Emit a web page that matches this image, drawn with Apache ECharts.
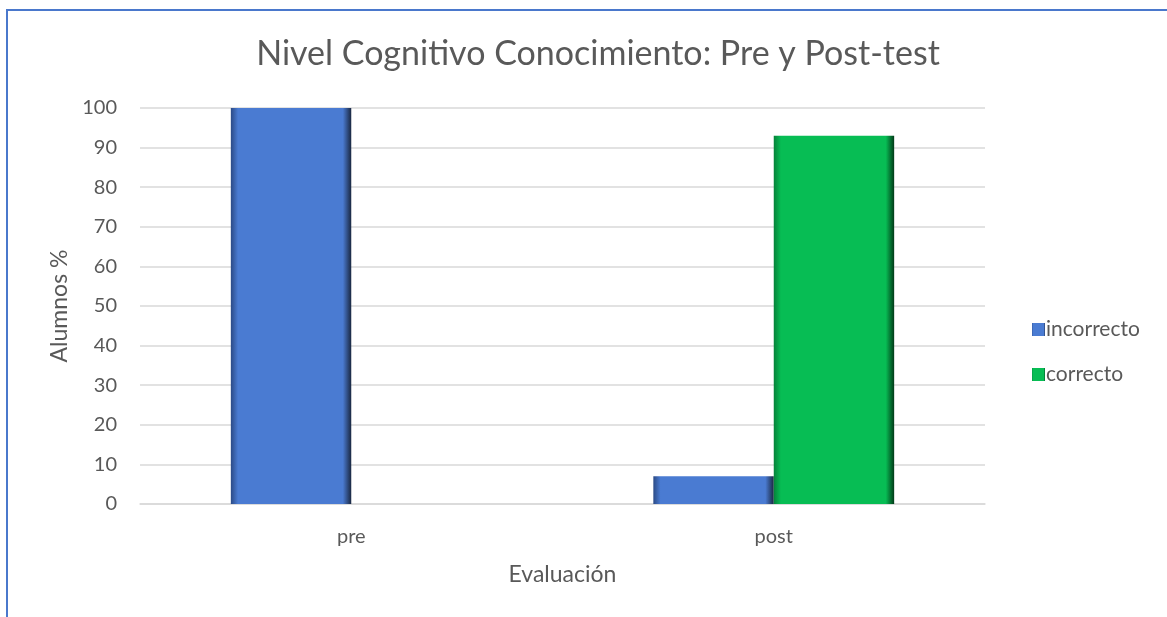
<!DOCTYPE html>
<html>
<head>
<meta charset="utf-8">
<script src="https://cdn.jsdelivr.net/npm/echarts@6/dist/echarts.min.js"></script>
<style>
  html, body { margin: 0; padding: 0; background: #fff; }
  .frame {
    position: absolute; left: 6px; top: 9px; width: 1161px; height: 608px;
    border-top: 2px solid #4a78cc; border-left: 2px solid #4a78cc;
    box-sizing: border-box;
  }
  #chart { position: absolute; left: 0; top: 0; width: 1167px; height: 617px; }
</style>
</head>
<body>
<div class="frame"></div>
<div id="chart"></div>
<script>
// datos
const categories = ["pre", "post"];
const incorrecto = [100, 7];
const correcto = [0, 93];
const yTicks = [0, 10, 20, 30, 40, 50, 60, 70, 80, 90, 100];

const font = "Lato, 'Open Sans', sans-serif";

// degradado tipo bisel
function bevel(base, dark, light) {
  return new echarts.graphic.LinearGradient(0, 0, 1, 0, [
    { offset: 0, color: dark },
    { offset: 0.06, color: base },
    { offset: 0.5, color: base },
    { offset: 0.93, color: base },
    { offset: 1, color: light },
  ]);
}

const chart = echarts.init(document.getElementById("chart"));
const option = {
  animation: false,
  title: {
    text: "Nivel Cognitivo Conocimiento: Pre y Post-test",
    left: 593,
    textAlign: "center",
    top: 32,
    textStyle: { fontFamily: font, fontSize: 34, fontWeight: "normal", color: "#595959" },
  },
  legend: {
    orient: "vertical",
    left: 1027,
    top: 314,
    itemGap: 24,
    itemWidth: 13,
    itemHeight: 13,
    icon: "rect",
    textStyle: { fontFamily: font, fontSize: 21, color: "#595959", padding: [0, 0, 0, -4] },
    data: ["incorrecto", "correcto"],
  },
  grid: { left: 140, right: 182, top: 108, bottom: 113 },
  xAxis: {
    type: "category",
    data: categories,
    name: "Evaluación",
    nameLocation: "middle",
    nameGap: 59,
    nameTextStyle: { fontFamily: font, fontSize: 23, color: "#595959" },
    axisLine: { lineStyle: { color: "#d9d9d9", width: 1.5 } },
    axisTick: { show: false },
    axisLabel: { fontFamily: font, fontSize: 20, color: "#595959", margin: 23 },
  },
  yAxis: {
    type: "value",
    min: yTicks[0],
    max: yTicks[yTicks.length - 1],
    interval: 10,
    name: "Alumnos %",
    nameLocation: "middle",
    nameGap: 68,
    nameTextStyle: { fontFamily: font, fontSize: 23, color: "#595959" },
    axisLine: { show: false },
    axisTick: { show: false },
    axisLabel: { fontFamily: font, fontSize: 20, color: "#595959", margin: 23 },
    splitLine: { lineStyle: { color: "#d9d9d9", width: 1.5 } },
  },
  series: [
    {
      name: "incorrecto",
      type: "bar",
      data: incorrecto,
      barGap: "0%",
      barCategoryGap: "43%",
      color: "#4678cf",
      itemStyle: { color: bevel("#4a7bd2", "#2b4a86", "#1a2740") },
    },
    {
      name: "correcto",
      type: "bar",
      data: correcto,
      color: "#07ba52",
      itemStyle: { color: bevel("#07bd54", "#05823a", "#023a18") },
    },
  ],
};
chart.setOption(option);
</script>
</body>
</html>
